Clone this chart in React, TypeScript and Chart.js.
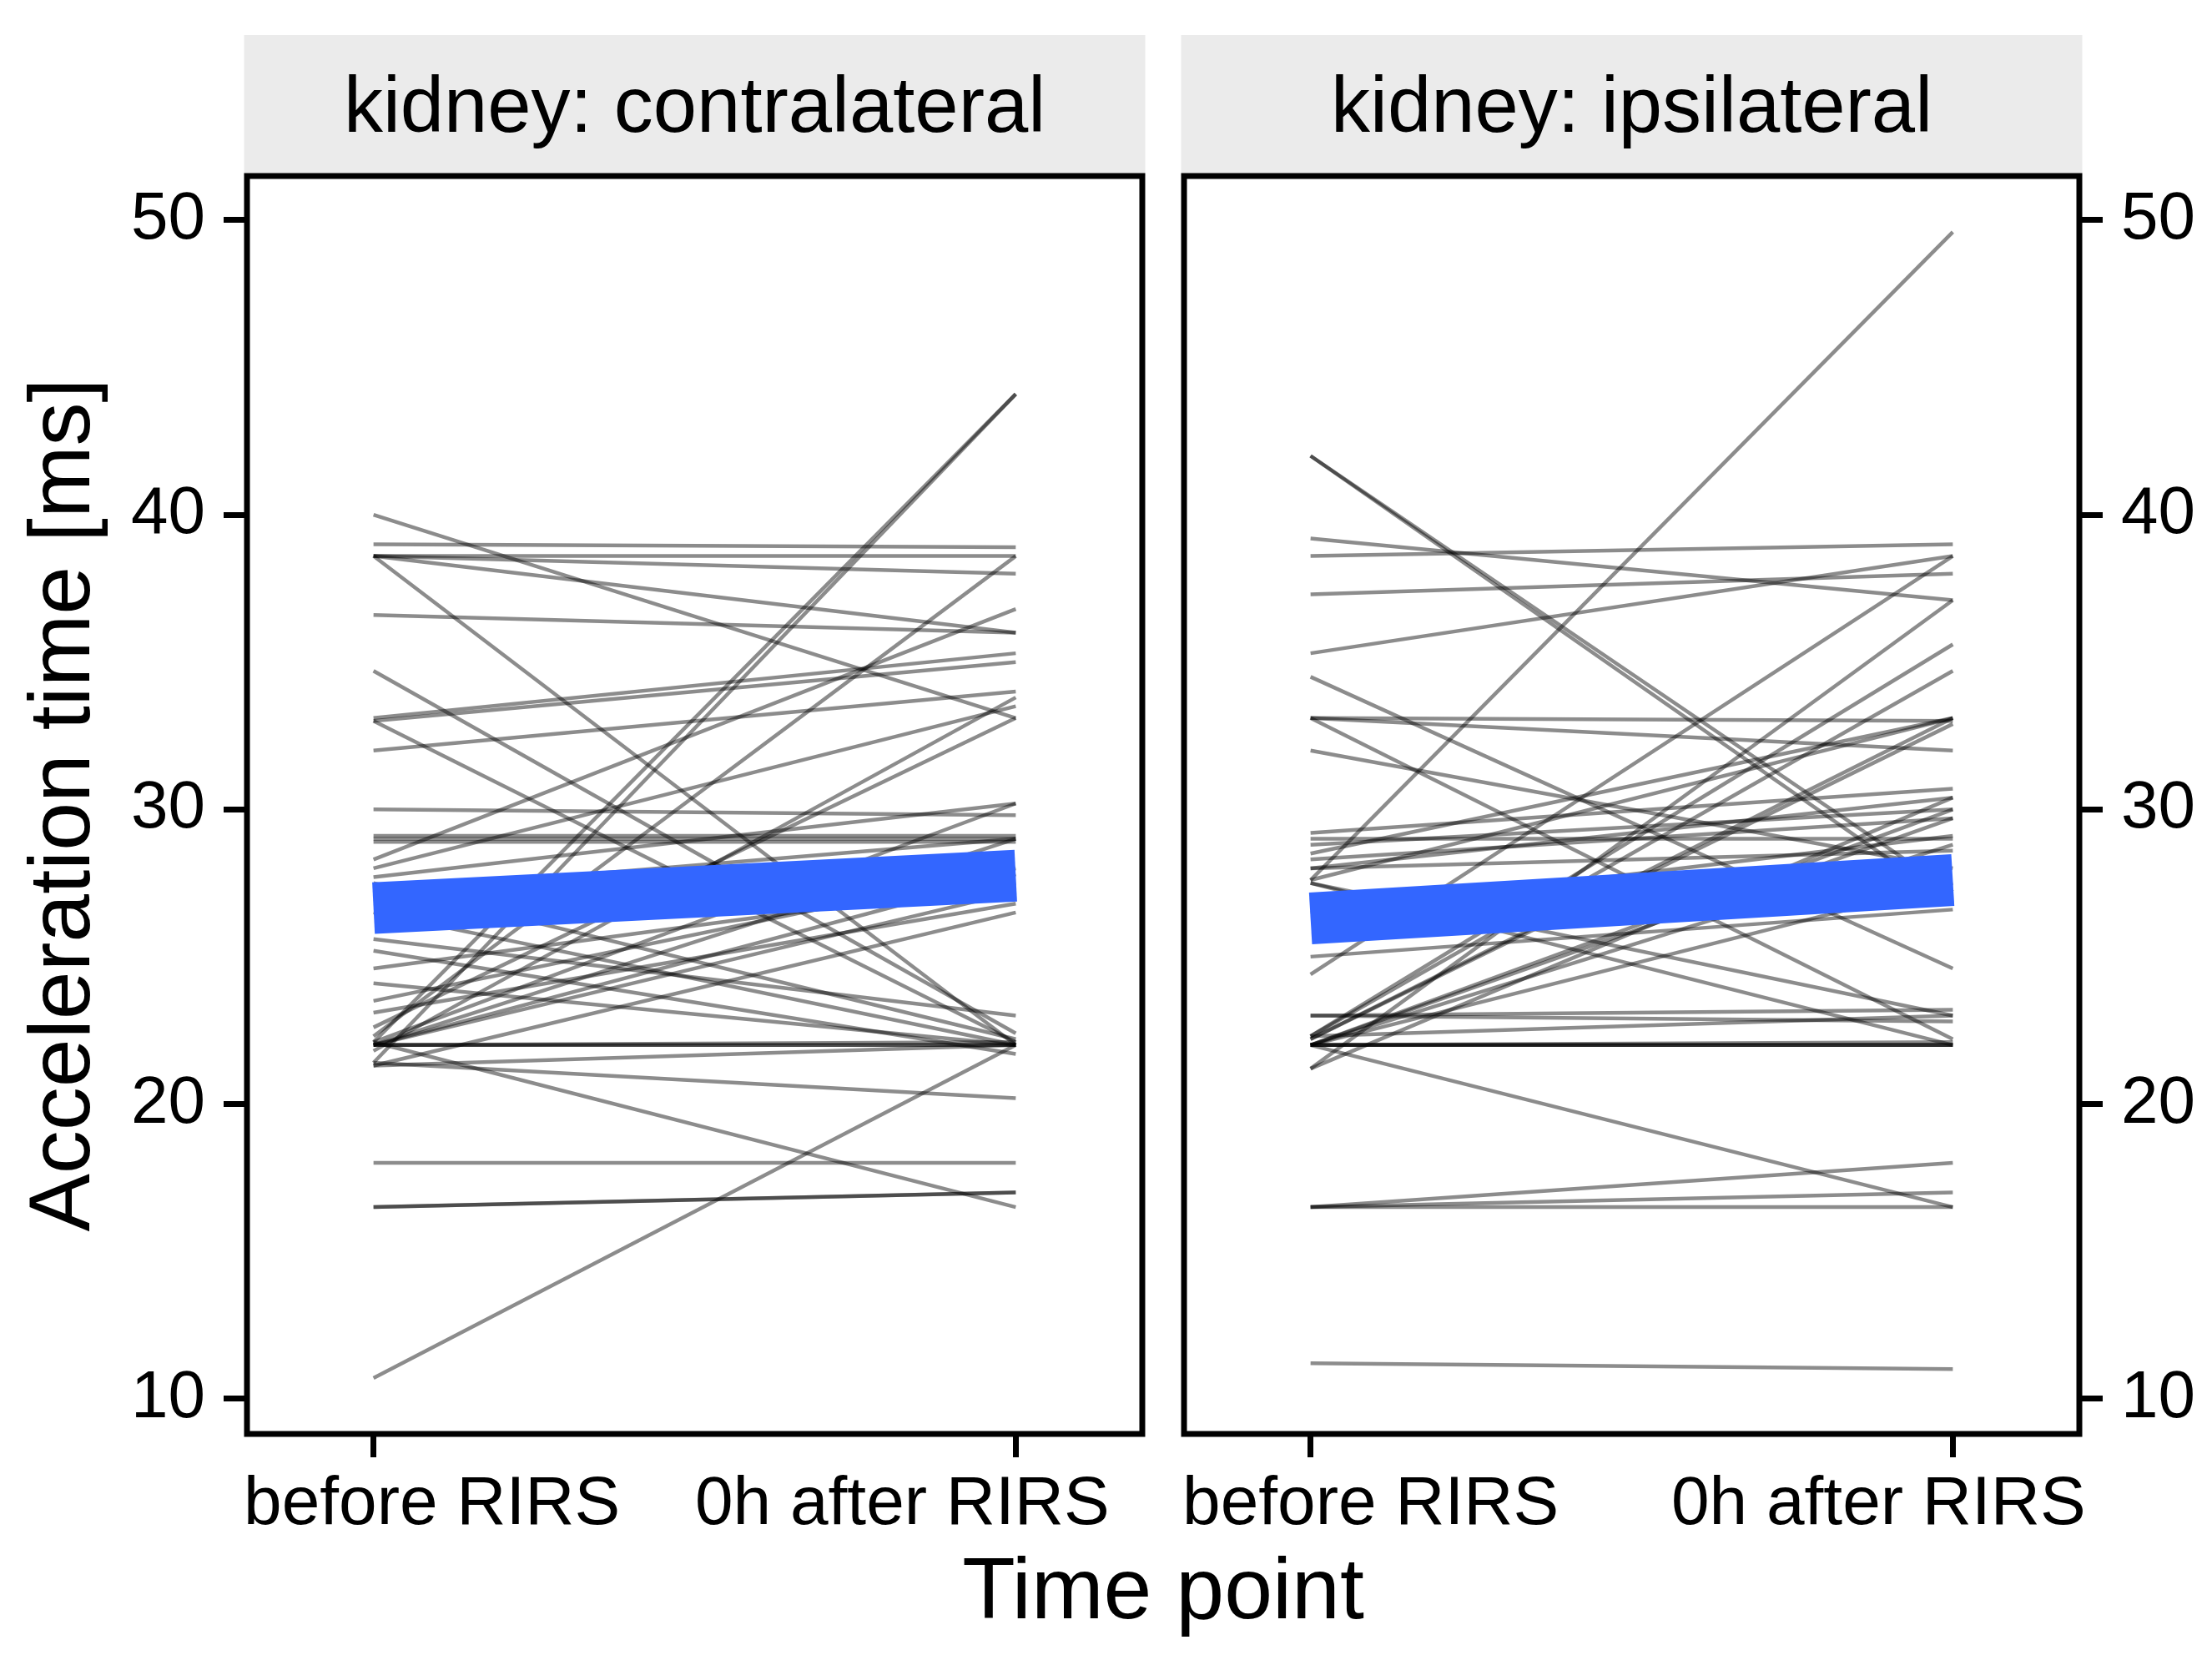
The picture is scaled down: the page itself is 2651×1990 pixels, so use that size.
import React, { useEffect, useRef } from "react";
import { Chart, registerables } from "chart.js";

Chart.register(...registerables);

// ---- data ----
const categories = ["before RIRS", "0h after RIRS"];
const panelLabels = ["kidney: contralateral", "kidney: ipsilateral"];
const yTickValues = [10, 20, 30, 40, 50];

const contraBefore = [40.0, 39.0, 38.6, 38.6, 38.6, 38.6, 36.6, 34.7, 33.1, 33.0, 33.0, 32.0, 30.0, 29.1, 28.9, 29.0, 28.3, 28.0, 27.7, 27.5, 27.2, 26.5, 25.6, 25.2, 24.6, 24.1, 23.5, 23.1, 22.6, 22.3, 22.1, 22.0, 22.0, 22.0, 22.0, 22.0, 22.1, 22.1, 22.0, 21.8, 21.4, 21.3, 21.4, 21.3, 18.0, 16.5, 16.5, 10.7];
const contraAfter = [33.1, 38.9, 38.6, 38.0, 36.0, 22.0, 36.0, 22.4, 35.3, 35.0, 22.1, 34.0, 29.8, 29.1, 28.9, 29.0, 36.8, 33.5, 30.2, 22.2, 29.0, 22.0, 23.0, 21.7, 27.5, 22.0, 28.0, 26.8, 33.1, 38.6, 44.1, 22.0, 22.0, 22.1, 27.2, 27.8, 30.2, 16.5, 29.0, 33.8, 44.1, 22.0, 20.2, 26.5, 18.0, 17.0, 17.0, 22.0];

const ipsiBefore = [42.0, 42.0, 39.2, 38.6, 37.3, 35.3, 34.5, 33.1, 33.1, 33.1, 32.0, 29.2, 29.0, 28.8, 28.5, 28.3, 28.0, 28.0, 27.6, 27.6, 27.5, 27.5, 26.5, 25.0, 24.4, 23.0, 23.0, 22.3, 22.3, 22.3, 22.2, 22.2, 22.0, 22.0, 22.0, 22.0, 22.0, 22.0, 22.0, 22.0, 22.0, 21.2, 21.2, 16.5, 16.5, 16.5, 11.2];
const ipsiAfter = [27.2, 26.8, 37.1, 39.0, 38.0, 38.6, 24.6, 33.0, 32.0, 22.2, 28.0, 30.7, 29.0, 30.0, 33.1, 29.7, 30.4, 28.6, 49.6, 33.1, 22.0, 23.0, 29.1, 26.6, 38.6, 22.8, 23.2, 23.0, 35.6, 34.7, 33.1, 32.9, 30.0, 29.7, 28.8, 27.5, 22.0, 22.0, 22.0, 22.1, 16.5, 37.1, 30.4, 18.0, 17.0, 16.5, 11.0];

const trendContra = [26.65, 27.75];
const trendIpsi = [26.3, 27.6];

// ---- layout constants ----
const W = 2651;
const H = 1990;
const PAD = 0.197; // discrete-axis expansion on each side of a panel
const OFFSET = 1.459; // x shift of the second panel
const X_MIN = 1 - PAD;
const X_MAX = 2 + OFFSET + PAD;
const Y_MIN = 8.8;
const Y_MAX = 51.5;
const FONT = "'Liberation Sans', Arial, Helvetica, sans-serif";

const panelRanges = [
  [1 - PAD, 2 + PAD],
  [1 + OFFSET - PAD, 2 + OFFSET + PAD],
];

const xTickValues = [1, 2, 1 + OFFSET, 2 + OFFSET];
const xTickLabels = [categories[0], categories[1], categories[0], categories[1]];
const xLabelShift = [70, -136, 72, -89]; // horizontal nudges of the tick labels (px)

function pairDatasets(before: number[], after: number[], off: number) {
  return before.map((b, i) => ({
    data: [
      { x: 1 + off, y: b },
      { x: 2 + off, y: after[i] },
    ],
    borderColor: "rgba(0,0,0,0.45)",
    borderWidth: 4.5,
    pointRadius: 0,
    tension: 0,
    fill: false,
    yAxisID: "y",
  }));
}

function trendDataset(vals: number[], off: number) {
  return {
    data: [
      { x: 1 + off, y: vals[0] },
      { x: 2 + off, y: vals[1] },
    ],
    borderColor: "#3366FF",
    borderWidth: 62,
    borderCapStyle: "butt" as const,
    pointRadius: 0,
    tension: 0,
    fill: false,
    yAxisID: "y",
  };
}

const panelPlugin = {
  id: "panelDecor",
  beforeDraw(chart: any) {
    const { ctx, scales } = chart;
    const xs = scales.x;
    const area = chart.chartArea;
    ctx.save();
    panelRanges.forEach((r, i) => {
      const l = xs.getPixelForValue(r[0]);
      const rr = xs.getPixelForValue(r[1]);
      ctx.fillStyle = "#EBEBEB";
      ctx.fillRect(l - 3.5, 42, rr - l + 7, area.top - 42);
      ctx.fillStyle = "#000";
      ctx.font = `94px ${FONT}`;
      ctx.textAlign = "center";
      ctx.textBaseline = "alphabetic";
      ctx.fillText(panelLabels[i], (l + rr) / 2, 158);
    });
    ctx.restore();
  },
  afterDatasetsDraw(chart: any) {
    const { ctx, scales } = chart;
    const xs = scales.x;
    const area = chart.chartArea;
    ctx.save();
    ctx.strokeStyle = "#000";
    ctx.lineWidth = 7;
    panelRanges.forEach((r) => {
      const l = xs.getPixelForValue(r[0]);
      const rr = xs.getPixelForValue(r[1]);
      ctx.strokeRect(l, area.top, rr - l, area.bottom - area.top);
    });
    ctx.restore();
  },
  afterDraw(chart: any) {
    const { ctx, scales } = chart;
    const xs = scales.x;
    ctx.save();
    ctx.fillStyle = "#000";
    ctx.font = `82px ${FONT}`;
    ctx.textAlign = "center";
    ctx.textBaseline = "alphabetic";
    xTickValues.forEach((v, i) => {
      ctx.fillText(xTickLabels[i], xs.getPixelForValue(v) + xLabelShift[i], 1827);
    });
    ctx.restore();
  },
};

const tickFont = { family: FONT, size: 80 };

function yScale(position: "left" | "right", width: number, withTitle: boolean) {
  return {
    type: "linear" as const,
    position,
    min: Y_MIN,
    max: Y_MAX,
    afterBuildTicks: (s: any) => {
      s.ticks = yTickValues.map((v) => ({ value: v }));
    },
    afterFit: (s: any) => {
      s.width = width;
    },
    ticks: {
      font: tickFont,
      color: "#000",
      padding: 22,
      callback: (v: any) => String(v),
    },
    grid: {
      drawOnChartArea: false,
      drawTicks: true,
      tickLength: 28,
      tickWidth: 7,
      tickColor: "#000",
    },
    border: { display: false },
    title: {
      display: withTitle,
      text: "Acceleration time [ms]",
      color: "#000",
      font: { family: FONT, size: 104 },
      padding: { top: 16, bottom: 0 },
    },
  };
}

export default function App() {
  const ref = useRef<HTMLCanvasElement | null>(null);

  useEffect(() => {
    if (!ref.current) return;
    const datasets: any[] = [
      trendDataset(trendContra, 0),
      trendDataset(trendIpsi, OFFSET),
      ...pairDatasets(contraBefore, contraAfter, 0),
      ...pairDatasets(ipsiBefore, ipsiAfter, OFFSET),
    ];
    const chart = new Chart(ref.current, {
      type: "line",
      data: { datasets },
      plugins: [panelPlugin],
      options: {
        animation: false,
        responsive: false,
        devicePixelRatio: 1,
        layout: { padding: { top: 211, left: 0, right: 0, bottom: 0 } },
        plugins: {
          legend: { display: false },
          tooltip: { enabled: false },
        },
        scales: {
          x: {
            type: "linear",
            min: X_MIN,
            max: X_MAX,
            afterBuildTicks: (s: any) => {
              s.ticks = xTickValues.map((v) => ({ value: v }));
            },
            afterFit: (s: any) => {
              s.height = H - 1719;
            },
            ticks: {
              display: false,
              autoSkip: false,
              maxRotation: 0,
            },
            grid: {
              drawOnChartArea: false,
              drawTicks: true,
              tickLength: 28,
              tickWidth: 7,
              tickColor: "#000",
            },
            border: { display: false },
            title: {
              display: true,
              text: "Time point",
              color: "#000",
              font: { family: FONT, size: 104 },
              padding: { top: 0, bottom: 16 },
            },
          },
          y: yScale("left", 296, true),
          y2: yScale("right", W - 2492, false),
        },
      } as any,
    });
    return () => chart.destroy();
  }, []);

  return (
    <div style={{ position: "absolute", left: 0, top: 0, width: W, height: H, background: "#fff" }}>
      <canvas ref={ref} width={W} height={H} style={{ width: W, height: H, display: "block" }} />
    </div>
  );
}
